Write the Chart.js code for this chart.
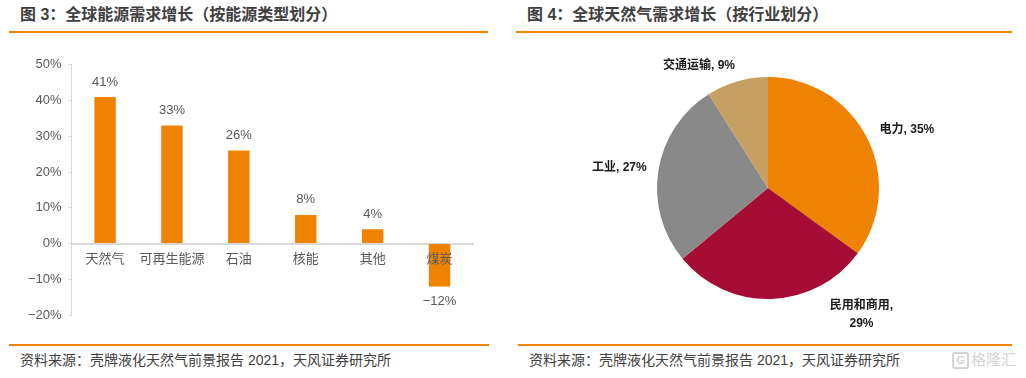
<!DOCTYPE html>
<html>
<head>
<meta charset="utf-8">
<script src="https://cdn.jsdelivr.net/npm/chart.js@4.4.0/dist/chart.umd.min.js"></script>
<style>
  body { margin: 0; width: 1026px; height: 378px; background: #fff; overflow: hidden; position: relative;
         font-family: "Liberation Sans", "Noto Sans CJK SC", sans-serif; }
  .title { position: absolute; top: 5px; font-size: 16px; font-weight: bold; color: #404040; line-height: 20px; white-space: nowrap; }
  .rule { position: absolute; height: 2px; background: #F08300; }
  .source { position: absolute; top: 351px; font-size: 14px; color: #404040; line-height: 18px; white-space: nowrap; }
  .box { position: absolute; top: 50px; height: 280px; }
  .mark { position: absolute; left: 952px; top: 351px; color: #d4d4d4; font-size: 15px; line-height: 18px; white-space: nowrap; }
  .mark span { display: inline-block; border: 2px solid #d4d4d4; border-radius: 3px; width: 13px; height: 13px; line-height: 13px;
               font-size: 11px; text-align: center; font-weight: bold; margin-right: 2px; vertical-align: 1px; }
</style>
</head>
<body>
<div class="title" style="left:20px">图 3：全球能源需求增长（按能源类型划分）</div>
<div class="rule" style="left:9px; width:479px; top:31px"></div>
<div class="title" style="left:527px">图 4：全球天然气需求增长（按行业划分）</div>
<div class="rule" style="left:516px; width:496px; top:31px"></div>

<div class="box" style="left:0; width:490px"><canvas id="growthChart"></canvas></div>
<div class="box" style="left:516px; width:500px"><canvas id="sectorChart"></canvas></div>

<div class="rule" style="left:9px; width:480px; top:344px"></div>
<div class="rule" style="left:518px; width:494px; top:344px"></div>
<div class="source" style="left:20px">资料来源：壳牌液化天然气前景报告 2021，天风证券研究所</div>
<div class="source" style="left:529px">资料来源：壳牌液化天然气前景报告 2021，天风证券研究所</div>
<div class="mark"><span>G</span>格隆汇</div>

<script>
// chart data
const categories = ['天然气', '可再生能源', '石油', '核能', '其他', '煤炭'];
const growthValues = [41, 33, 26, 8, 4, -12];
const yMin = -20, yMax = 50, yStep = 10;

const sectors = ['电力', '民用和商用', '工业', '交通运输'];
const sectorShares = [35, 29, 27, 9];

const ORANGE = '#EF8200';
const FONT = '"Liberation Sans", "Noto Sans CJK SC", sans-serif';
Chart.defaults.font.family = FONT;
Chart.defaults.color = '#595959';

function fmtPct(v) {
    return (v < 0 ? '\u2212' + Math.abs(v) : v) + '%';
}

// value labels above / below the bars
const barValueLabels = {
    id: 'barValueLabels',
    afterDatasetsDraw(chart) {
        const ctx = chart.ctx;
        const meta = chart.getDatasetMeta(0);
        ctx.save();
        ctx.font = '13px ' + FONT;
        ctx.fillStyle = '#595959';
        ctx.textAlign = 'center';
        ctx.textBaseline = 'middle';
        meta.data.forEach((bar, i) => {
            const v = chart.data.datasets[0].data[i];
            ctx.fillText(fmtPct(v), bar.x, v >= 0 ? bar.y - 15 : bar.y + 15);
        });
        ctx.restore();
    }
};

// outside labels for the pie slices
const pieLabels = {
    id: 'pieLabels',
    afterDatasetsDraw(chart, args, opts) {
        const ctx = chart.ctx;
        const meta = chart.getDatasetMeta(0);
        ctx.save();
        ctx.font = 'bold 12px ' + FONT;
        ctx.fillStyle = '#1a1a1a';
        ctx.textAlign = 'center';
        ctx.textBaseline = 'middle';
        meta.data.forEach((arc, i) => {
            const mid = (arc.startAngle + arc.endAngle) / 2;
            const shift = opts.shift[i];
            const x = arc.x + Math.cos(mid) * arc.outerRadius + shift[0];
            const y = arc.y + Math.sin(mid) * arc.outerRadius + shift[1];
            const name = chart.data.labels[i];
            const val = chart.data.datasets[0].data[i] + '%';
            const lines = name.length > 4 ? [name + ',', val] : [name + ', ' + val];
            lines.forEach((t, k) => ctx.fillText(t, x, y + (k - (lines.length - 1) / 2) * 18));
        });
        ctx.restore();
    }
};

new Chart(document.getElementById('growthChart'), {
    type: 'bar',
    data: {
        labels: categories,
        datasets: [{ data: growthValues, backgroundColor: ORANGE, categoryPercentage: 1, barPercentage: 0.32 }]
    },
    options: {
        responsive: true,
        maintainAspectRatio: false,
        animation: false,
        layout: { padding: { top: 13, bottom: 15, left: 21, right: 17 } },
        plugins: { legend: { display: false }, tooltip: { enabled: false } },
        scales: {
            x: {
                position: { y: 0 },
                grid: { display: false, drawTicks: false },
                border: { display: true, color: '#d9d9d9', width: 2 },
                // ticks drawn on top so the coal label sits over its bar
                ticks: { z: 1, font: { size: 13 }, color: '#595959', padding: 8, maxRotation: 0, autoSkip: false }
            },
            y: {
                min: yMin, max: yMax,
                grid: { drawOnChartArea: false, drawTicks: true, tickLength: 3, color: '#d9d9d9' },
                border: { color: '#d9d9d9' },
                ticks: { stepSize: yStep, font: { size: 13 }, color: '#595959', padding: 7, callback: v => fmtPct(v) }
            }
        }
    },
    plugins: [barValueLabels]
});

new Chart(document.getElementById('sectorChart'), {
    type: 'pie',
    data: {
        labels: sectors,
        datasets: [{ data: sectorShares, backgroundColor: [ORANGE, '#A50D35', '#898989', '#C6A063'], borderWidth: 0 }]
    },
    options: {
        responsive: true,
        maintainAspectRatio: false,
        animation: false,
        layout: { padding: { top: 27, bottom: 31, left: 141, right: 137 } },
        plugins: {
            legend: { display: false },
            tooltip: { enabled: false },
            pieLabels: { shift: [[40, -8], [90, 16], [-39, -3], [-38, -16]] }
        }
    },
    plugins: [pieLabels]
});
</script>
</body>
</html>
